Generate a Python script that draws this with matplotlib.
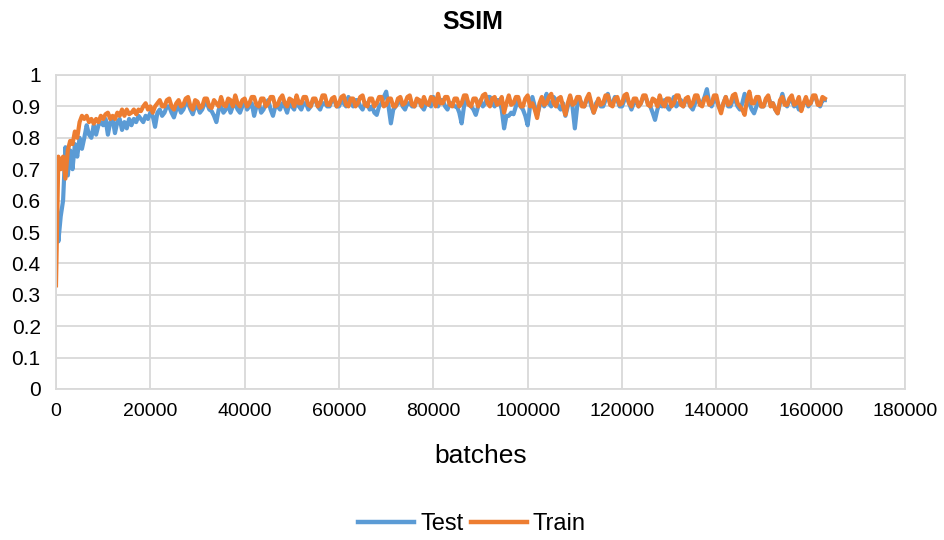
import numpy as np
import matplotlib
matplotlib.use("Agg")
import matplotlib.pyplot as plt

plt.rcParams['font.family'] = ['Liberation Sans', 'DejaVu Sans']

# batches sampled every 500 from 0 to 163000
batches = np.arange(0, 163500, 500)

test = [
    0.66, 0.47, 0.55, 0.60, 0.77, 0.68, 0.76, 0.70, 0.78, 0.74,
    0.80, 0.765, 0.80, 0.84, 0.81, 0.80, 0.84, 0.81, 0.84, 0.85,
    0.84, 0.86, 0.81, 0.85, 0.86, 0.815, 0.85, 0.86, 0.825, 0.85,
    0.83, 0.86, 0.84, 0.86, 0.85, 0.87, 0.86, 0.85, 0.87, 0.86,
    0.88, 0.87, 0.835, 0.88,
    0.89, 0.87, 0.88, 0.90, 0.90, 0.88, 0.865, 0.89, 0.90, 0.88,
    0.89, 0.91, 0.91, 0.89, 0.875, 0.90, 0.90, 0.88, 0.89, 0.91,
    0.91, 0.89, 0.885, 0.87, 0.85, 0.89, 0.90, 0.88, 0.89, 0.91,
    0.88, 0.90, 0.91, 0.89, 0.88, 0.90, 0.92, 0.89, 0.90, 0.91,
    0.87, 0.90, 0.91, 0.88, 0.89, 0.91, 0.92, 0.89, 0.87, 0.90,
    0.90, 0.89, 0.91, 0.90, 0.88, 0.91, 0.90, 0.89, 0.92, 0.90,
    0.89, 0.91, 0.91, 0.89, 0.90, 0.92, 0.92, 0.90, 0.89, 0.91,
    0.91, 0.90, 0.90, 0.92, 0.92, 0.90, 0.90, 0.92, 0.91, 0.90,
    0.93, 0.91, 0.90, 0.92, 0.92, 0.90, 0.89, 0.91, 0.91, 0.89,
    0.90, 0.88, 0.873, 0.90, 0.91, 0.93, 0.947, 0.90, 0.846, 0.89,
    0.90, 0.91, 0.92, 0.90, 0.89, 0.91, 0.91, 0.90, 0.90, 0.92,
    0.92, 0.90, 0.89, 0.91, 0.91, 0.90, 0.93, 0.91, 0.90, 0.92,
    0.92, 0.90, 0.89, 0.91, 0.91, 0.90, 0.90, 0.88, 0.846, 0.90,
    0.92, 0.91, 0.90, 0.89, 0.873, 0.90, 0.92, 0.90, 0.91, 0.93,
    0.93, 0.91, 0.90, 0.92, 0.92, 0.89, 0.83, 0.87, 0.87, 0.88,
    0.875, 0.90, 0.92, 0.90, 0.89, 0.87, 0.84, 0.90, 0.93, 0.90,
    0.87, 0.90, 0.92, 0.90, 0.94, 0.91, 0.90, 0.93, 0.92, 0.90,
    0.89, 0.91, 0.87, 0.90, 0.93, 0.90, 0.83, 0.90, 0.92, 0.91,
    0.90, 0.92, 0.93, 0.90, 0.88, 0.91, 0.92, 0.90, 0.90, 0.92,
    0.94, 0.91, 0.91, 0.93, 0.92, 0.90, 0.90, 0.92, 0.93, 0.91,
    0.89, 0.91, 0.92, 0.90, 0.91, 0.93, 0.93, 0.91, 0.90, 0.88,
    0.857, 0.89, 0.91, 0.90, 0.92, 0.90, 0.89, 0.91, 0.93, 0.90,
    0.91, 0.92, 0.90, 0.92, 0.92, 0.90, 0.89, 0.91, 0.93, 0.91,
    0.91, 0.93, 0.955, 0.91, 0.90, 0.92, 0.92, 0.90, 0.89, 0.91,
    0.93, 0.90, 0.90, 0.92, 0.92, 0.90, 0.89, 0.91, 0.94, 0.91,
    0.91, 0.89, 0.878, 0.90, 0.92, 0.90, 0.90, 0.92, 0.93, 0.91,
    0.91, 0.89, 0.878, 0.91, 0.94, 0.91, 0.90, 0.92, 0.92, 0.90,
    0.91, 0.89, 0.89, 0.91, 0.92, 0.90, 0.91, 0.93, 0.93, 0.91,
    0.90, 0.92, 0.92,
]

train = [
    0.33, 0.74, 0.70, 0.74, 0.67, 0.76, 0.79, 0.78, 0.82, 0.80,
    0.85, 0.87, 0.86, 0.87, 0.85, 0.86, 0.845, 0.86, 0.85, 0.87,
    0.86, 0.875, 0.88, 0.86, 0.87, 0.86, 0.88, 0.87, 0.89, 0.87,
    0.89, 0.875, 0.88, 0.89, 0.875, 0.89, 0.885, 0.90, 0.91, 0.89,
    0.90, 0.88, 0.90, 0.91,
    0.92, 0.90, 0.90, 0.92, 0.925, 0.90, 0.89, 0.91, 0.92, 0.90,
    0.905, 0.925, 0.93, 0.90, 0.89, 0.92, 0.915, 0.895, 0.90, 0.925,
    0.925, 0.90, 0.895, 0.92, 0.91, 0.90, 0.93, 0.905, 0.90, 0.925,
    0.92, 0.90, 0.935, 0.91, 0.90, 0.92, 0.925, 0.90, 0.91, 0.93,
    0.93, 0.905, 0.90, 0.925, 0.925, 0.90, 0.91, 0.93, 0.93, 0.90,
    0.905, 0.925, 0.935, 0.91, 0.90, 0.925, 0.92, 0.90, 0.935, 0.91,
    0.91, 0.93, 0.93, 0.905, 0.90, 0.925, 0.925, 0.90, 0.91, 0.935,
    0.935, 0.905, 0.905, 0.925, 0.93, 0.90, 0.91, 0.93, 0.935, 0.905,
    0.90, 0.925, 0.925, 0.90, 0.91, 0.93, 0.935, 0.905, 0.90, 0.925,
    0.925, 0.90, 0.91, 0.93, 0.93, 0.90, 0.905, 0.925, 0.925, 0.90,
    0.90, 0.925, 0.93, 0.905, 0.91, 0.93, 0.935, 0.905, 0.90, 0.925,
    0.92, 0.90, 0.93, 0.91, 0.905, 0.93, 0.925, 0.90, 0.94, 0.91,
    0.91, 0.93, 0.93, 0.905, 0.90, 0.925, 0.925, 0.90, 0.91, 0.935,
    0.935, 0.905, 0.90, 0.925, 0.925, 0.90, 0.915, 0.935, 0.94, 0.91,
    0.90, 0.925, 0.93, 0.905, 0.91, 0.93, 0.88, 0.91, 0.935, 0.905,
    0.91, 0.93, 0.93, 0.90, 0.90, 0.925, 0.935, 0.90, 0.91, 0.89,
    0.863, 0.91, 0.93, 0.905, 0.91, 0.93, 0.94, 0.91, 0.90, 0.925,
    0.93, 0.90, 0.873, 0.91, 0.935, 0.905, 0.91, 0.93, 0.93, 0.90,
    0.90, 0.925, 0.94, 0.91, 0.88, 0.90, 0.925, 0.905, 0.91, 0.935,
    0.935, 0.905, 0.90, 0.925, 0.93, 0.905, 0.91, 0.935, 0.94, 0.91,
    0.90, 0.925, 0.925, 0.90, 0.91, 0.935, 0.935, 0.905, 0.90, 0.925,
    0.92, 0.90, 0.935, 0.91, 0.90, 0.925, 0.925, 0.90, 0.91, 0.935,
    0.935, 0.905, 0.90, 0.925, 0.93, 0.90, 0.91, 0.935, 0.935, 0.905,
    0.90, 0.925, 0.93, 0.905, 0.91, 0.935, 0.935, 0.90, 0.878, 0.91,
    0.93, 0.905, 0.91, 0.935, 0.94, 0.91, 0.90, 0.89, 0.873, 0.92,
    0.947, 0.91, 0.91, 0.93, 0.93, 0.90, 0.90, 0.925, 0.935, 0.90,
    0.91, 0.89, 0.878, 0.92, 0.93, 0.905, 0.905, 0.925, 0.935, 0.905,
    0.91, 0.93, 0.885, 0.91, 0.93, 0.905, 0.91, 0.935, 0.935, 0.905,
    0.905, 0.93, 0.925,
]

series_names = ["Test", "Train"]
colors = ["#5B9BD5", "#ED7D31"]
x_ticks = [0, 20000, 40000, 60000, 80000, 100000, 120000, 140000, 160000, 180000]
y_ticks = [0, 0.1, 0.2, 0.3, 0.4, 0.5, 0.6, 0.7, 0.8, 0.9, 1]
y_tick_labels = ["0", "0.1", "0.2", "0.3", "0.4", "0.5", "0.6", "0.7", "0.8", "0.9", "1"]

W, H = 944, 540
fig = plt.figure(figsize=(W / 100, H / 100), dpi=100)
ax = fig.add_axes([56 / W, 1 - 389 / H, (905 - 56) / W, (389 - 75) / H])

for name, vals, c in zip(series_names, [test, train], colors):
    ax.plot(batches, vals, color=c, lw=3.0, label=name, solid_joinstyle='round')

ax.set_xlim(0, 180000)
ax.set_ylim(0, 1)
ax.set_xticks(x_ticks)
ax.set_xticklabels([str(t) for t in x_ticks])
ax.set_yticks(y_ticks)
ax.set_yticklabels(y_tick_labels)
ax.tick_params(length=0, colors="#000000")
ax.tick_params(axis='x', labelsize=14, pad=10)
ax.tick_params(axis='y', labelsize=15, pad=11)
ax.grid(True, color="#d9d9d9", lw=1.3)
ax.set_axisbelow(True)
for s in ax.spines.values():
    s.set_color("#d9d9d9")
    s.set_linewidth(1.3)

fig.text(480.5 / W, 1 - 463 / H, "batches", fontsize=19, ha="center", va="baseline")
fig.text(473 / W, 1 - 22 / H, "SSIM", fontsize=18, fontweight="bold", ha="center", va="center")

leg = fig.legend(loc="center", bbox_to_anchor=(472 / W, 1 - 524 / H), ncol=2, frameon=False,
                 fontsize=17, handlelength=2.37, handletextpad=0.25, columnspacing=0.3,
                 borderpad=0, borderaxespad=0)
for line in leg.get_lines():
    line.set_linewidth(3.2)

fig.savefig("out.png", dpi=100)
